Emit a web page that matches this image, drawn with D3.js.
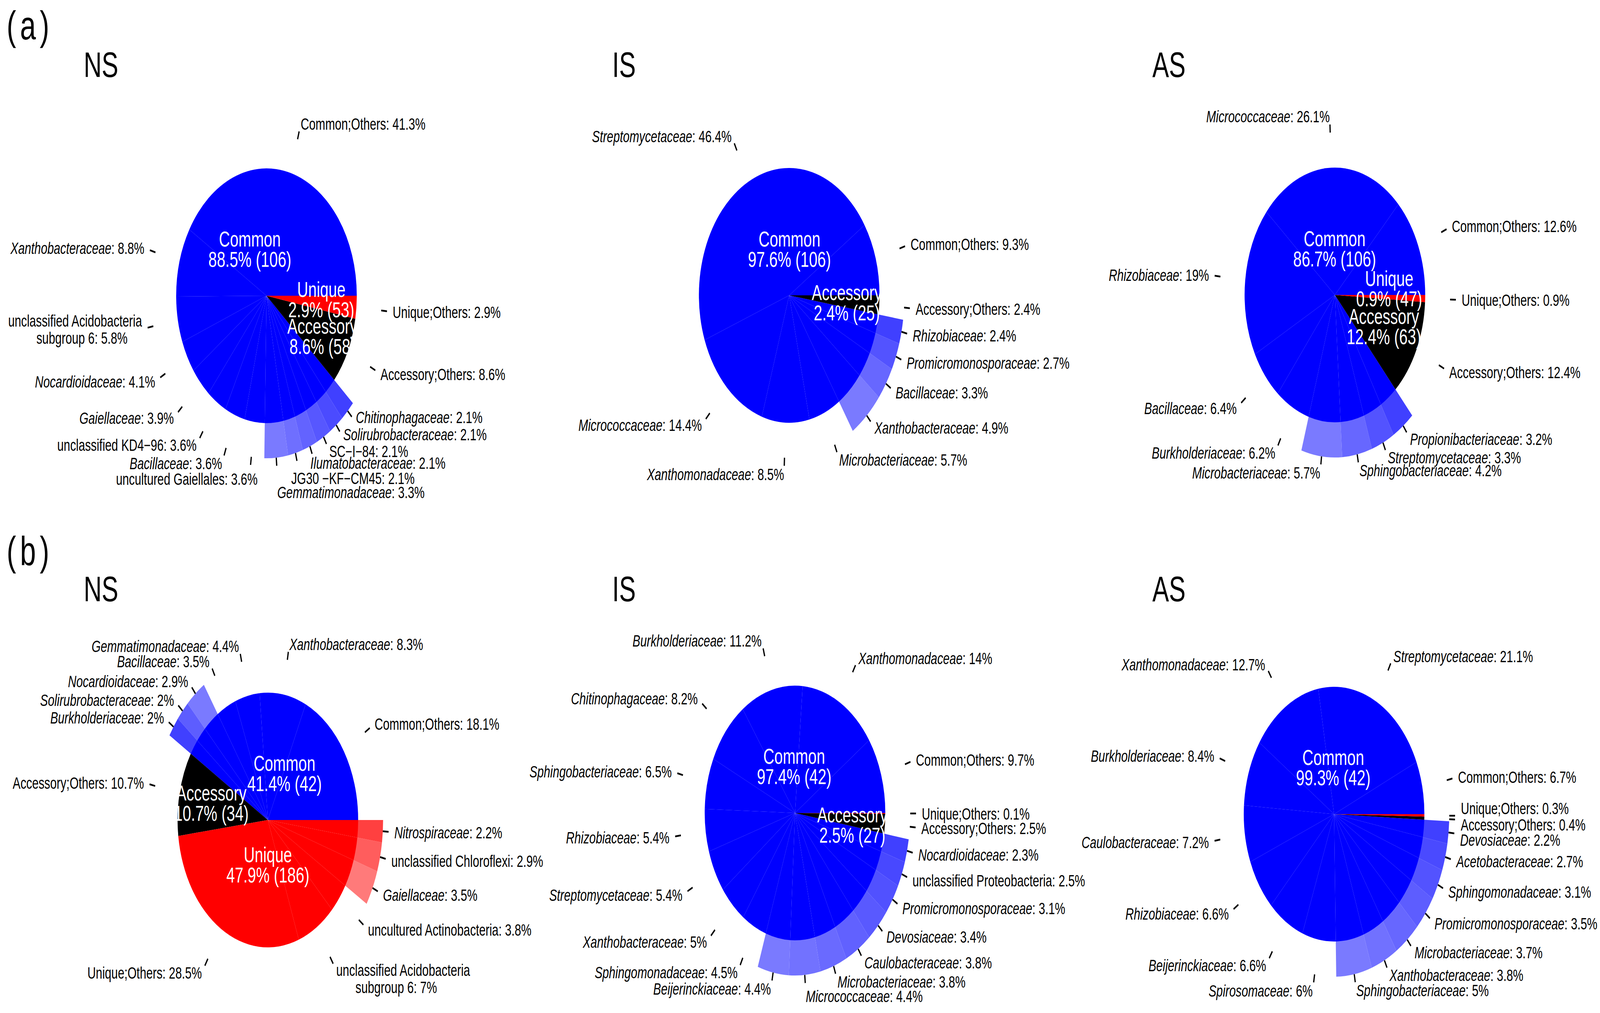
<!DOCTYPE html>
<html><head><meta charset="utf-8">
<script src="https://cdn.jsdelivr.net/npm/d3@7/dist/d3.min.js"></script>
<style>html,body{margin:0;padding:0;background:#fff;overflow:hidden;width:100%;height:100%}
#chart{display:block;width:100vw;height:100vh}</style>
</head><body><svg id="chart"></svg>
<script>
// ---------------- DATA ----------------
// (a) NS
const aNS_taxa = ["Common;Others","Xanthobacteraceae","unclassified Acidobacteria\nsubgroup 6","Nocardioidaceae","Gaiellaceae","unclassified KD4−96","Bacillaceae","uncultured Gaiellales","Gemmatimonadaceae","JG30 −KF−CM45","Ilumatobacteraceae","SC−I−84","Solirubrobacteraceae","Chitinophagaceae","Accessory;Others","Unique;Others"];
const aNS_pct  = [41.3,8.8,5.8,4.1,3.9,3.6,3.6,3.6,3.3,2.1,2.1,2.1,2.1,2.1,8.6,2.9];
const aNS_grp  = ["C","C","C","C","C","C","C","C","C","C","C","C","C","C","A","U"];
const aNS_ext  = [0,0,0,0,0,0,0,0,1,1,1,1,1,1,0,0];
const aNS_sumName = ["Common","Unique","Accessory"];
const aNS_sumPct  = [88.5,2.9,8.6];
const aNS_sumN    = [106,53,58];
// (a) IS
const aIS_taxa = ["Common;Others","Streptomycetaceae","Micrococcaceae","Xanthomonadaceae","Microbacteriaceae","Xanthobacteraceae","Bacillaceae","Promicromonosporaceae","Rhizobiaceae","Accessory;Others"];
const aIS_pct  = [9.3,46.4,14.4,8.5,5.7,4.9,3.3,2.7,2.4,2.4];
const aIS_grp  = ["C","C","C","C","C","C","C","C","C","A"];
const aIS_ext  = [0,0,0,0,0,1,1,1,1,0];
const aIS_sumName = ["Common","Accessory"];
const aIS_sumPct  = [97.6,2.4];
const aIS_sumN    = [106,25];
// (a) AS
const aAS_taxa = ["Common;Others","Micrococcaceae","Rhizobiaceae","Bacillaceae","Burkholderiaceae","Microbacteriaceae","Sphingobacteriaceae","Streptomycetaceae","Propionibacteriaceae","Accessory;Others","Unique;Others"];
const aAS_pct  = [12.6,26.1,19,6.4,6.2,5.7,4.2,3.3,3.2,12.4,0.9];
const aAS_grp  = ["C","C","C","C","C","C","C","C","C","A","U"];
const aAS_ext  = [0,0,0,0,0,1,1,1,1,0,0];
const aAS_sumName = ["Common","Unique","Accessory"];
const aAS_sumPct  = [86.7,0.9,12.4];
const aAS_sumN    = [106,47,63];
// (b) NS
const bNS_taxa = ["Common;Others","Xanthobacteraceae","Gemmatimonadaceae","Bacillaceae","Nocardioidaceae","Solirubrobacteraceae","Burkholderiaceae","Accessory;Others","Unique;Others","unclassified Acidobacteria\nsubgroup 6","uncultured Actinobacteria","Gaiellaceae","unclassified Chloroflexi","Nitrospiraceae"];
const bNS_pct  = [18.1,8.3,4.4,3.5,2.9,2,2,10.7,28.5,7,3.8,3.5,2.9,2.2];
const bNS_grp  = ["C","C","C","C","C","C","C","A","U","U","U","U","U","U"];
const bNS_ext  = [0,0,0,0,1,1,1,0,0,0,0,1,1,1];
const bNS_sumName = ["Common","Accessory","Unique"];
const bNS_sumPct  = [41.4,10.7,47.9];
const bNS_sumN    = [42,34,186];
// (b) IS
const bIS_taxa = ["Common;Others","Xanthomonadaceae","Burkholderiaceae","Chitinophagaceae","Sphingobacteriaceae","Rhizobiaceae","Streptomycetaceae","Xanthobacteraceae","Sphingomonadaceae","Beijerinckiaceae","Micrococcaceae","Microbacteriaceae","Caulobacteraceae","Devosiaceae","Promicromonosporaceae","unclassified Proteobacteria","Nocardioidaceae","Accessory;Others","Unique;Others"];
const bIS_pct  = [9.7,14,11.2,8.2,6.5,5.4,5.4,5,4.5,4.4,4.4,3.8,3.8,3.4,3.1,2.5,2.3,2.5,0.1];
const bIS_grp  = ["C","C","C","C","C","C","C","C","C","C","C","C","C","C","C","C","C","A","U"];
const bIS_ext  = [0,0,0,0,0,0,0,0,0,1,1,1,1,1,1,1,1,0,0];
const bIS_sumName = ["Common","Accessory"];
const bIS_sumPct  = [97.4,2.5];
const bIS_sumN    = [42,27];
// (b) AS
const bAS_taxa = ["Common;Others","Streptomycetaceae","Xanthomonadaceae","Burkholderiaceae","Caulobacteraceae","Rhizobiaceae","Beijerinckiaceae","Spirosomaceae","Sphingobacteriaceae","Xanthobacteraceae","Microbacteriaceae","Promicromonosporaceae","Sphingomonadaceae","Acetobacteraceae","Devosiaceae","Accessory;Others","Unique;Others"];
const bAS_pct  = [6.7,21.1,12.7,8.4,7.2,6.6,6.6,6,5,3.8,3.7,3.5,3.1,2.7,2.2,0.4,0.3];
const bAS_grp  = ["C","C","C","C","C","C","C","C","C","C","C","C","C","C","C","A","U"];
const bAS_ext  = [0,0,0,0,0,0,0,0,1,1,1,1,1,1,1,0,0];
const bAS_sumName = ["Common"];
const bAS_sumPct  = [99.3];
const bAS_sumN    = [42];

const rowLetters = ["(a)","(b)"];
const siteTitles = ["NS","IS","AS"];

// ---------------- LAYOUT ----------------
const W = 5776, H = 2593;
const R = 416;        // label / highlighted radius
const rMain = 326;    // main pie radius
const FONT = "'Liberation Sans', Arial, Helvetica, sans-serif";
const groupColor = {C:"#0000ff", A:"#000000", U:"#ff0000"};

const panels = [
  {row:0,col:0,cx:962, cy:757, taxa:aNS_taxa,pct:aNS_pct,grp:aNS_grp,ext:aNS_ext,sName:aNS_sumName,sPct:aNS_sumPct,sN:aNS_sumN,
   sPos:[[-60,-120],[198,9],[202,103]],
   nudge:{"uncultured Gaiellales":[28,15],"Gemmatimonadaceae":[0,47],"JG30 −KF−CM45":[-26,24],"Ilumatobacteraceae":[-14,4],"Solirubrobacteraceae":[0,-10],"Chitinophagaceae":[0,-14]}},
  {row:0,col:1,cx:2849,cy:756, taxa:aIS_taxa,pct:aIS_pct,grp:aIS_grp,ext:aIS_ext,sName:aIS_sumName,sPct:aIS_sumPct,sN:aIS_sumN,
   sPos:[[1,-119],[208,18]], nudge:{}},
  {row:0,col:2,cx:4819,cy:755, taxa:aAS_taxa,pct:aAS_pct,grp:aAS_grp,ext:aAS_ext,sName:aAS_sumName,sPct:aAS_sumPct,sN:aAS_sumN,
   sPos:[[-1,-119],[196,-17],[177,80]], nudge:{}},
  {row:1,col:0,cx:967, cy:2099,taxa:bNS_taxa,pct:bNS_pct,grp:bNS_grp,ext:bNS_ext,sName:bNS_sumName,sPct:bNS_sumPct,sN:bNS_sumN,
   sPos:[[60,-120],[-204,-44],[0,114]], nudge:{"unclassified Acidobacteria\nsubgroup 6":[0,20]}},
  {row:1,col:1,cx:2870,cy:2081,taxa:bIS_taxa,pct:bIS_pct,grp:bIS_grp,ext:bIS_ext,sName:bIS_sumName,sPct:bIS_sumPct,sN:bIS_sumN,
   sPos:[[-3,-120],[207,30]], nudge:{"Micrococcaceae":[0,13]}},
  {row:1,col:2,cx:4816,cy:2084,taxa:bAS_taxa,pct:bAS_pct,grp:bAS_grp,ext:bAS_ext,sName:bAS_sumName,sPct:bAS_sumPct,sN:bAS_sumN,
   sPos:[[-3,-120]], nudge:{"Devosiaceae":[0,14],"Accessory;Others":[0,12],"Unique;Others":[0,-20]}}
];
const titleX = [302, 2210, 4160];
const titleY = [197, 1539];
const letterY = [101, 1446];

// ---------------- DRAW ----------------
const svg = d3.select("#chart")
  .attr("viewBox", `0 0 ${W} ${H}`).attr("preserveAspectRatio", "none");
svg.append("rect").attr("width", W).attr("height", H).attr("fill", "#fff");

rowLetters.forEach((t, i) => {
  svg.append("text").attr("x", 24).attr("y", letterY[i])
    .attr("font-family", FONT).attr("font-size", 103).attr("letter-spacing", 14)
    .attr("fill", "#000").text(t);
});

const pie = d3.pie().sort(null).value(d => d.pct)
  .startAngle(Math.PI / 2).endAngle(Math.PI / 2 - 2 * Math.PI);
const arcMain = d3.arc().innerRadius(0).outerRadius(rMain);
const arcExt = d3.arc().innerRadius(rMain - 2).outerRadius(R);

panels.forEach(p => {
  svg.append("text").attr("x", titleX[p.col]).attr("y", titleY[p.row])
    .attr("font-family", FONT).attr("font-size", 90).attr("fill", "#000")
    .text(siteTitles[p.col]);

  const g = svg.append("g").attr("transform", `translate(${p.cx},${p.cy})`);
  const rows = p.taxa.map((t, i) => ({name: t, pct: p.pct[i], grp: p.grp[i], ext: p.ext[i]}));
  const arcs = pie(rows);

  // colour of the highlighted (extended) slices: lighter first, darker last
  ["C","A","U"].forEach(gk => {
    const list = arcs.filter(a => a.data.grp === gk && a.data.ext);
    list.forEach((a, k) => {
      const f = list.length > 1 ? 0.48 - 0.23 * k / (list.length - 1) : 0.4;
      a.extColor = d3.interpolateRgb(groupColor[gk], "#ffffff")(f);
    });
  });

  g.selectAll("path.ext").data(arcs.filter(a => a.data.ext)).join("path")
    .attr("class", "ext").attr("d", arcExt).attr("fill", a => a.extColor);
  g.selectAll("path.main").data(arcs).join("path")
    .attr("class", "main").attr("d", arcMain).attr("fill", a => groupColor[a.data.grp]);

  // ticks
  const mid = a => (a.startAngle + a.endAngle) / 2;
  g.selectAll("line.tick").data(arcs).join("line")
    .attr("x1", a => R * Math.sin(mid(a))).attr("y1", a => -R * Math.cos(mid(a)))
    .attr("x2", a => 1.05 * R * Math.sin(mid(a))).attr("y2", a => -1.05 * R * Math.cos(mid(a)))
    .attr("stroke", "#000").attr("stroke-width", 4.5);

  // outer labels
  arcs.forEach(a => {
    const m = mid(a);
    const nx = p.nudge[a.data.name] || [0, 0];
    const x = 1.1 * R * Math.sin(m) + nx[0];
    const y = -1.1 * R * Math.cos(m) + nx[1];
    const left = Math.sin(m) < 0;
    const lines = a.data.name.split("\n");
    const pctTxt = ": " + a.data.pct + "%";
    const fs = 42, lh = 44;
    if (lines.length === 1) {
      const t = g.append("text").attr("x", x).attr("y", y).attr("dy", "0.37em")
        .attr("font-family", FONT).attr("font-size", fs).attr("fill", "#000")
        .attr("text-anchor", left ? "end" : "start");
      const ital = /aceae$/.test(a.data.name);
      t.append("tspan").attr("font-style", ital ? "italic" : "normal").text(a.data.name);
      t.append("tspan").text(pctTxt);
    } else {
      const strs = lines.map((l, k) => k === lines.length - 1 ? l + pctTxt : l);
      const nodes = strs.map((s, k) => g.append("text")
        .attr("y", y + (k - (strs.length - 1) / 2) * lh).attr("dy", "0.37em")
        .attr("font-family", FONT).attr("font-size", fs).attr("fill", "#000")
        .attr("text-anchor", "middle").text(s));
      const widths = nodes.map(n => n.node().getComputedTextLength());
      const bw = d3.max(widths);
      const cxb = left ? x - bw / 2 : x + bw / 2;
      nodes.forEach((n, k) => {
        const shift = widths[k] < bw - 1 ? (left ? 25 : -25) : 0;
        n.attr("x", cxb + shift);
      });
    }
  });

  // centre (group) labels
  p.sName.forEach((nm, i) => {
    const [dx, dy] = p.sPos[i];
    const t = g.append("text").attr("font-family", FONT).attr("font-size", 55)
      .attr("fill", "#fff").attr("text-anchor", "middle");
    t.append("tspan").attr("x", dx).attr("y", dy - 26).attr("dy", "0.36em").text(nm);
    t.append("tspan").attr("x", dx).attr("y", dy + 26).attr("dy", "0.36em")
      .text(p.sPct[i] + "% (" + p.sN[i] + ")");
  });
});
</script>
</body></html>
